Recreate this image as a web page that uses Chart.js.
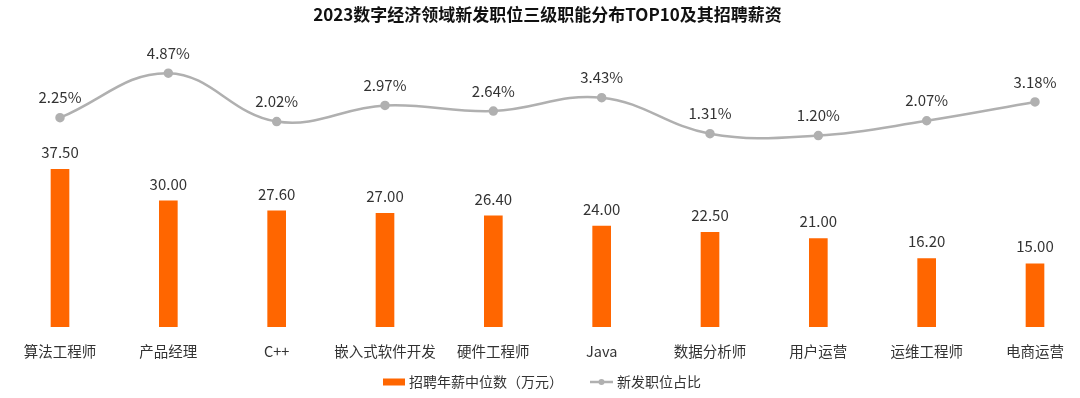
<!DOCTYPE html>
<html>
<head>
<meta charset="utf-8">
<script src="https://cdn.jsdelivr.net/npm/chart.js@4"></script>
<style>
  html, body { margin: 0; padding: 0; background: #fff; }
  #wrap { width: 1080px; height: 398px; }
</style>
</head>
<body>
<div id="wrap"><canvas id="chart"></canvas></div>
<script>
// 岗位（类别）
const categories = ['算法工程师', '产品经理', 'C++', '嵌入式软件开发', '硬件工程师', 'Java', '数据分析师', '用户运营', '运维工程师', '电商运营'];
// 招聘年薪中位数（万元）
const salary = [37.50, 30.00, 27.60, 27.00, 26.40, 24.00, 22.50, 21.00, 16.20, 15.00];
// 新发职位占比 (%)
const share = [2.25, 4.87, 2.02, 2.97, 2.64, 3.43, 1.31, 1.20, 2.07, 3.18];

const FONT = '"Noto Sans CJK SC", "Noto Sans", sans-serif';
const ORANGE = '#FF6600';
const GREY = '#B0B0B0';

// 数值标签
const valueLabels = {
    id: 'valueLabels',
    afterDatasetsDraw(chart) {
        const ctx = chart.ctx;
        ctx.save();
        ctx.font = '15px ' + FONT;
        ctx.fillStyle = '#333';
        ctx.textAlign = 'center';
        ctx.textBaseline = 'middle';
        chart.getDatasetMeta(0).data.forEach((bar, i) => {
            ctx.fillText(salary[i].toFixed(2), bar.x, bar.y - 17);
        });
        chart.getDatasetMeta(1).data.forEach((pt, i) => {
            ctx.fillText(share[i].toFixed(2) + '%', pt.x, pt.y - 20);
        });
        ctx.restore();
    }
};

// 图例（底部）
const bottomLegend = {
    id: 'bottomLegend',
    afterDraw(chart) {
        const ctx = chart.ctx;
        const y = 382;
        ctx.save();
        ctx.font = '14px ' + FONT;
        ctx.textBaseline = 'middle';
        ctx.textAlign = 'left';
        ctx.fillStyle = ORANGE;
        ctx.fillRect(383, y - 3.5, 22, 7);
        ctx.fillStyle = '#333';
        ctx.fillText('招聘年薪中位数（万元）', 409, y);
        ctx.strokeStyle = GREY;
        ctx.lineWidth = 2.5;
        ctx.beginPath();
        ctx.moveTo(590, y);
        ctx.lineTo(613, y);
        ctx.stroke();
        ctx.fillStyle = GREY;
        ctx.beginPath();
        ctx.arc(601.5, y, 3, 0, Math.PI * 2);
        ctx.fill();
        ctx.fillStyle = '#333';
        ctx.fillText('新发职位占比', 617, y);
        ctx.restore();
    }
};

const ctx = document.getElementById('chart').getContext('2d');
const myChart = new Chart(ctx, {
    data: {
        labels: categories,
        datasets: [
            {
                type: 'bar',
                label: '招聘年薪中位数（万元）',
                data: salary,
                backgroundColor: ORANGE,
                barThickness: 18,
                yAxisID: 'yBar',
                clip: false,
                order: 2
            },
            {
                type: 'line',
                label: '新发职位占比',
                data: share,
                borderColor: GREY,
                backgroundColor: GREY,
                borderWidth: 2.5,
                pointRadius: 3.5,
                pointHoverRadius: 3.5,
                tension: 0.4,
                yAxisID: 'yLine',
                clip: false,
                order: 1
            }
        ]
    },
    options: {
        responsive: true,
        maintainAspectRatio: false,
        animation: false,
        layout: { padding: { left: 60, right: 45, bottom: 22, top: 0 } },
        plugins: {
            legend: { display: false },
            tooltip: { enabled: false },
            title: {
                display: true,
                text: '2023数字经济领域新发职位三级职能分布TOP10及其招聘薪资',
                color: '#111',
                font: { family: FONT, size: 17, weight: 'bold' },
                padding: { top: 4, bottom: 15 }
            }
        },
        scales: {
            x: {
                offset: false,
                grid: { display: false, drawTicks: false },
                border: { display: false },
                ticks: {
                    color: '#333',
                    font: { family: FONT, size: 14.5 },
                    padding: 16,
                    maxRotation: 0,
                    autoSkip: false
                }
            },
            yBar: {
                display: false,
                min: 0,
                max: 68.5
            },
            yLine: {
                display: false,
                min: -10.05,
                max: 6.86
            }
        }
    },
    plugins: [valueLabels, bottomLegend]
});
</script>
</body>
</html>
